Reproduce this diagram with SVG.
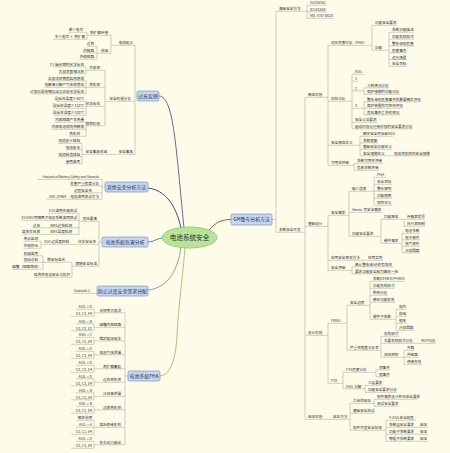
<svg xmlns="http://www.w3.org/2000/svg" width="450" height="453" viewBox="0 0 450 453">
<style>
text{font-family:"Noto Sans CJK SC","Noto Sans",sans-serif;fill:#2e2e2e}
.t{font-size:3.6px}
.l{text-anchor:end}
.s{font-size:3.2px}
.m{font-size:4.9px;text-anchor:middle;fill:#1f2f55}
.box{fill:#c8d6ee;stroke:#7b97c6;stroke-width:.7}
.ln{fill:none;stroke:#9a9a90;stroke-width:.45}
.cv{fill:none;stroke-width:1}
</style>
<rect width="450" height="453" fill="#fdfce8"/>
<g id="connectors">
<path class="cv" stroke="#8b5c8b" d="M159,96 C174,96 176,150 184,228"/>
<path class="cv" stroke="#3d4d73" d="M148,188 C165,190 176,205 181,228"/>
<path class="cv" stroke="#5588c0" d="M148,242 C154,242 157,238 163,238"/>
<path class="cv" stroke="#82a9a0" d="M148,290 C168,288 178,270 181,247"/>
<path class="cv" stroke="#c4b47c" d="M160,376 C172,375 176,355 177,335 C179,300 184,265 185,247"/>
<path class="cv" stroke="#c0504d" d="M209,230 C216,222 222,219.5 231,219.5"/>
<path class="ln" d="M137,96H135 M135,45.3V154.3 M111,45.3H135 M87,35.3H111 M68,32.3H87 M53.5,39.3H87 M87,32.3V39.3 M97,53.3H111 M86.5,46.3H97 M83,52.8H97 M79.5,59.3H97 M97,46.3V59.3 M111,35.3V53.3 M105,101.3H135 M86,70.3H105 M53,66.8H86 M58.5,73.8H86 M86,66.8V73.8 M86,87.3H105 M47.8,80.8H86 M44.2,87.3H86 M33.4,93.8H86 M86,80.8V93.8 M86,106.3H105 M56,101.3H86 M54,108.3H86 M54,115.3H86 M86,101.3V115.3 M86,125.8H105 M55,122.3H86 M51.5,129.3H86 M69,136.3H86 M86,122.3V136.3 M105,70.3V125.8 M82,154.3H135 M58,143.3H82 M65.5,149.8H82 M58,156.8H82 M65.5,163.8H82 M82,143.3V163.8"/>
<path class="ln" d="M102,187H105 M102,179.3V199.3 M37,179.3H102 M70,185.8H102 M74,192.8H102 M46,199.3H102"/>
<path class="ln" d="M99,242H102 M99,221.3V266.3 M79,221.3H99 M48,213.3H79 M21,220.3H79 M32.5,227.8H79 M22,234.3H79 M79,213.3V234.3 M41,244.3H99 M23.5,241.3H41 M23.5,248.3H41 M41,241.3V248.3 M72,266.3H99 M43,262.3H72 M23.5,255.8H43 M23.5,262.3H43 M12,269.3H43 M43,255.8V269.3 M34,277.3H72 M72,262.3V277.3"/>
<path class="ln" d="M73,293.3H97"/>
<path class="ln" d="M125,376H128 M125,312.8V444.8 M94,312.8H125 M76,309.3H94 M71,316.3H94 M94,309.3V316.3 M94,327.3H125 M76,323.8H94 M71,330.8H94 M94,323.8V330.8 M94,340.8H125 M76,337.3H94 M71,344.3H94 M94,337.3V344.3 M94,354.8H125 M76,351.3H94 M71,358.3H94 M94,351.3V358.3 M94,368.8H125 M76,365.3H94 M71,372.3H94 M94,365.3V372.3 M94,382.3H125 M76,378.8H94 M71,385.8H94 M94,378.8V385.8 M94,396.3H125 M76,392.8H94 M71,399.8H94 M94,392.8V399.8 M94,409.8H125 M76,406.3H94 M71,413.3H94 M94,406.3V413.3 M94,427.3H125 M77,420.3H94 M76,427.3H94 M71,434.3H94 M94,420.3V434.3 M94,444.8H125 M76,441.3H94 M71,448.3H94 M94,441.3V448.3"/>
<path class="ln" d="M272,219.5H276 M276,11.3V232.3 M276,11.3H307 M307,5.3H327 M307,11.8H327 M307,18.3H334 M307,5.3V18.3 M276,232.3H305 M305,97.3V419.3 M305,97.3H328 M328,45.3V165.3 M328,45.3H372 M372,25.3V50.3 M372,25.3H397 M372,50.3H389 M389,32.3V66.3 M389,32.3H414 M389,39.1H414 M389,45.9H414 M389,52.7H407 M389,59.5H407 M389,66.3H407 M328,101.3H352 M352,74.3V128.8 M352,74.3H364 M352,81.3H358 M352,90.8H364 M364,87.8V94.3 M364,87.8H389 M364,94.3H400 M352,108.3H364 M364,101.8V114.8 M364,101.8H421 M364,108.3H403 M364,114.8H400 M352,122.3H377 M352,128.8H413 M328,145.3H360 M360,136.3V155.8 M360,136.3H393 M360,142.8H378 M360,149.3H392 M360,155.8H430 M328,165.3H354 M354,163.3V170.3 M354,163.3H383 M354,170.3H379"/>
<path class="ln" d="M305,226.3H328 M328,215.3V270.3 M328,215.3H349 M349,191.3V236.3 M349,191.3H374 M374,177.3V205.3 M374,177.3H386 M374,184.3H392 M374,191.3H392 M374,198.3H392 M374,205.3H392 M349,212.3H382 M349,236.3H381 M381,219.3V243.3 M381,219.3H425 M404,226.3H425 M404,219.3V226.3 M381,243.3H402 M402,233.3V252.8 M402,233.3H420 M402,239.8H420 M402,246.3H420 M402,252.8H420 M328,260.3H383 M328,270.3H352 M352,266.8V273.8 M352,266.8H393 M352,273.8H395"/>
<path class="ln" d="M305,335.3H328 M328,323.3V383.3 M328,323.3H347 M347,305.3V350.3 M347,305.3H370 M370,281.3V319.3 M370,281.3H405 M370,288.3H395 M370,295.3H388 M370,302.3H395 M370,319.3H396 M396,309.3V330.3 M396,309.3H407 M396,316.3H407 M396,323.3H407 M396,330.3H414 M347,350.3H381 M381,336.3V357.3 M381,336.3H399 M381,343.3H436 M381,357.3H404 M404,350.3V364.3 M404,350.3H415 M404,357.3H418 M404,364.3H422 M328,383.3H343 M343,372.3V388.8 M343,372.3H376 M376,369.8V376.8 M376,369.8H390 M376,376.8H390 M343,388.8H365 M365,385.3V392.3 M365,385.3H383 M365,392.3H397"/>
<path class="ln" d="M305,419.3H350 M350,403.3V430.3 M350,403.3H374 M374,399.3V406.3 M374,399.3H417 M374,406.3H399 M350,413.3H375 M350,430.3H386 M386,420.3V441.3 M386,420.3H416 M386,427.3H428 M386,434.3H428 M386,441.3H428"/>
</g>
<g id="center"><ellipse cx="189.5" cy="237.5" rx="27.5" ry="10.5" fill="#b8e49a" stroke="#8dc26a" stroke-width=".8"/><text x="189.5" y="239.9" font-size="6.6" text-anchor="middle" fill="#1e2e1e">电池系统安全</text></g>
<g id="b_overcharge"><rect class="box" x="137" y="91" width="22" height="10" rx="1.5"/><text class="m" x="148" y="97.7">过充实例</text></g>
<g id="b_other"><rect class="box" x="105" y="182" width="43" height="10" rx="1.5"/><text class="m" x="126.5" y="188.7">其他安全分析方法</text></g>
<g id="b_hazard"><rect class="box" x="102" y="237" width="46" height="10" rx="1.5"/><text class="m" x="125" y="243.7">电池系统危害分析</text></g>
<g id="b_prevent"><rect class="box" x="97" y="286" width="51" height="10" rx="1.5"/><text class="m" x="122.5" y="292.7" font-size="4.7">防止过度安全需求分配</text></g>
<g id="b_fha"><rect class="box" x="128" y="371" width="32" height="10" rx="1.5"/><text class="m" x="144" y="377.7">电池系统FHA</text></g>
<g id="b_gm"><rect class="box" x="231" y="214" width="41" height="11" rx="1.5"/><text class="m" x="251.5" y="221.3">GM整车分析方法</text></g>
<g id="left1" class="t l">
<g id="n1"><text class="t l" x="133" y="44.3">电池起火</text></g>
<g id="n2"><text class="t l" x="108" y="34.3">热扩散传播</text></g>
<g id="n3"><text class="t l" x="83" y="31.3">单个电芯</text></g>
<g id="n4"><text class="t l" x="85" y="38.3">多个电芯 ＋ 热扩散</text></g>
<g id="n5"><text class="t l" x="108" y="52.3">诱因</text></g>
<g id="n6"><text class="t l" x="94" y="45.3">过热</text></g>
<g id="n7"><text class="t l" x="94" y="51.8">内短路</text></g>
<g id="n8"><text class="t l" x="94" y="58.3">外部短路</text></g>
<g id="n9"><text class="t l" x="131" y="100.3">安全机理分析</text></g>
<g id="n10"><text class="t l" x="100" y="69.3">负极侧</text></g>
<g id="n11"><text class="t l" x="84" y="65.8">2个碳化物的化学反应</text></g>
<g id="n12"><text class="t l" x="84" y="72.8">负极表面锂沉积</text></g>
<g id="n13"><text class="t l" x="100" y="86.3">热失控</text></g>
<g id="n14"><text class="t l" x="84" y="79.8">正极活性物质结构坍塌</text></g>
<g id="n15"><text class="t l" x="84" y="86.3">电解液分解产气体积增加</text></g>
<g id="n16"><text class="t l" x="84" y="92.8">过电位导致锂析出与正极化学反应</text></g>
<g id="n17"><text class="t l" x="100" y="105.3">化学反应</text></g>
<g id="n18"><text class="t l" x="84" y="100.3">副反应温度≥60℃</text></g>
<g id="n19"><text class="t l" x="84" y="107.3">副反应温度≥120℃</text></g>
<g id="n20"><text class="t l" x="84" y="114.3">副反应温度≥200℃</text></g>
<g id="n21"><text class="t l" x="100" y="124.8">放热阶段</text></g>
<g id="n22"><text class="t l" x="84" y="121.3">内部短路产生热量</text></g>
<g id="n23"><text class="t l" x="84" y="128.3">内部电池燃烧热释放</text></g>
<g id="n24"><text class="t l" x="80" y="135.3">热失控</text></g>
<g id="n25"><text class="t l" x="133" y="153.3">安全事故</text></g>
<g id="n26"><text class="t l" x="107" y="153.3">安全事故诱因</text></g>
<g id="n27"><text class="t l" x="80" y="142.3">电池设计缺陷</text></g>
<g id="n28"><text class="t l" x="80" y="148.8">电池老化</text></g>
<g id="n29"><text class="t l" x="80" y="155.8">电池制造缺陷</text></g>
<g id="n30"><text class="t l" x="80" y="162.8">使用滥用</text></g>
</g>
<g id="left2">
<g id="n31"><text class="s l" x="99" y="178.4">Analysis of Battery Safety and Hazards</text></g>
<g id="n32"><text class="t l" x="99" y="184.8">危害严重程度分析</text></g>
<g id="n33"><text class="t l" x="92" y="191.8">过程安全性</text></g>
<g id="n34"><text class="t l" x="99" y="198.3">电池滥用测试方法</text></g>
<g id="n35"><text class="t l" x="66" y="198.3">SAE J2464</text></g>
</g>
<g id="left3">
<g id="n36"><text class="t l" x="97" y="220.3">危险要素</text></g>
<g id="n37"><text class="t l" x="77" y="212.3">ESS滥用性能测试</text></g>
<g id="n38"><text class="t l" x="77" y="219.3">EV/HEV用锂离子电池系统滥用测试</text></g>
<g id="n39"><text class="t l" x="72" y="226.8">BMS过充检测</text></g>
<g id="n40"><text class="t l" x="40" y="226.8">过充</text></g>
<g id="n41"><text class="t l" x="72" y="233.3">BMS温度检测</text></g>
<g id="n42"><text class="t l" x="40" y="233.3">高倍率充放</text></g>
<g id="n43"><text class="t l" x="96" y="243.3">化学安全性</text></g>
<g id="n44"><text class="t l" x="69" y="243.3">SOC过温度控制</text></g>
<g id="n45"><text class="t l" x="38" y="240.3">热点监测</text></g>
<g id="n46"><text class="t l" x="38" y="247.3">外部挤压</text></g>
<g id="n47"><text class="t l" x="97" y="265.3">跟随安全标准</text></g>
<g id="n48"><text class="t l" x="65" y="261.3">等级标准化</text></g>
<g id="n49"><text class="t l" x="38" y="254.8">机械滥用</text></g>
<g id="n50"><text class="t l" x="38" y="261.3">振动试验</text></g>
<g id="n51"><text class="t l" x="41" y="268.3">碰撞（短路等级）</text></g>
<g id="n52"><text class="t l" x="70" y="276.3">结构性电池安全与防护</text></g>
</g>
<g id="left4"><g id="n53"><text class="t l" x="90" y="292.3">Subtask 1</text></g></g>
<g id="left5">
<g id="h1"><text class="t l" x="121" y="311.8">非预期大电流</text><text class="t l" x="92" y="308.3">ASIL = D</text><text class="t l" x="92" y="315.3">S3, C3, E4</text></g>
<g id="h2"><text class="t l" x="121" y="326.3">碰撞内部短路</text><text class="t l" x="92" y="322.8">ASIL = B</text><text class="t l" x="92" y="329.8">S3, C3, E2</text></g>
<g id="h3"><text class="t l" x="121" y="339.8">维护高压电击</text><text class="t l" x="92" y="336.3">ASIL = C</text><text class="t l" x="92" y="343.3">S3, C2, E4</text></g>
<g id="h4"><text class="t l" x="121" y="353.8">电池气体泄漏</text><text class="t l" x="92" y="350.3">ASIL = D</text><text class="t l" x="92" y="357.3">S3, C3, E4</text></g>
<g id="h5"><text class="t l" x="121" y="367.8">热扩散蔓延</text><text class="t l" x="92" y="364.3">ASIL = D</text><text class="t l" x="92" y="371.3">S3, C3, E4</text></g>
<g id="h6"><text class="t l" x="121" y="381.3">过充热失控</text><text class="t l" x="92" y="377.8">ASIL = D</text><text class="t l" x="92" y="384.8">S3, C3, E4</text></g>
<g id="h7"><text class="t l" x="121" y="395.3">冷却液泄漏</text><text class="t l" x="92" y="391.8">ASIL = B</text><text class="t l" x="92" y="398.8">S3, C1, E4</text></g>
<g id="h8"><text class="t l" x="121" y="408.8">过放热失控</text><text class="t l" x="92" y="405.3">ASIL = B</text><text class="t l" x="92" y="412.3">S3, C1, E4</text></g>
<g id="h9"><text class="t l" x="121" y="426.3">高压绝缘失效</text><text class="t l" x="92" y="419.3">需求说明</text><text class="t l" x="92" y="426.3">ASIL = A</text><text class="t l" x="92" y="433.3">S1, C2, E4</text></g>
<g id="h10"><text class="t l" x="121" y="443.8">失去动力输出</text><text class="t l" x="92" y="440.3">ASIL = D</text><text class="t l" x="92" y="447.3">S3, C3, E4</text></g>
</g>
<g id="right">
<g id="r1"><text class="t" x="279" y="10.3">基础安全方法</text></g>
<g id="r2"><text class="t" x="310" y="4.3">ISO26262</text></g>
<g id="r3"><text class="t" x="310" y="10.8">IEC61508</text></g>
<g id="r4"><text class="t" x="310" y="17.3">MIL-STD-882D</text></g>
<g id="r5"><text class="t" x="279" y="231.3">系统安全开发</text></g>
<g id="r6"><text class="t" x="308" y="96.3">概念阶段</text></g>
<g id="r7"><text class="t" x="331" y="44.3">初步危害分析（PHA）</text></g>
<g id="r8"><text class="t" x="375" y="24.3">功能安全要求</text></g>
<g id="r9"><text class="t" x="375" y="49.3">功能</text></g>
<g id="r10"><text class="t" x="392" y="31.3">系统功能描述</text></g>
<g id="r11"><text class="t" x="392" y="38.1">功能失效模式</text></g>
<g id="r12"><text class="t" x="392" y="44.9">整车级别危害</text></g>
<g id="r13"><text class="t" x="392" y="51.7">危害事件</text></g>
<g id="r14"><text class="t" x="392" y="58.5">运行场景</text></g>
<g id="r15"><text class="t" x="392" y="65.3">安全目标</text></g>
<g id="r16"><text class="t" x="331" y="100.3">风险分析</text></g>
<g id="r17"><text class="t" x="355" y="73.3">ASIL</text></g>
<g id="r18"><text class="t" x="355" y="80.3">1</text></g>
<g id="r19"><text class="t" x="355" y="89.8">2</text></g>
<g id="r20"><text class="t" x="367" y="86.8">三种情况分析</text></g>
<g id="r21"><text class="t" x="367" y="93.3">保护措施的功能分析</text></g>
<g id="r22"><text class="t" x="355" y="107.3">3</text></g>
<g id="r23"><text class="t" x="367" y="100.8">整车级别危害事件的暴露概率评估</text></g>
<g id="r24"><text class="t" x="367" y="107.3">保护装置的可控性评估</text></g>
<g id="r25"><text class="t" x="367" y="113.8">危险事件之外的情况</text></g>
<g id="r26"><text class="t" x="355" y="121.3">安全认证要求</text></g>
<g id="r27"><text class="t" x="355" y="127.8">起动阶段与行驶阶段的安全要求分析</text></g>
<g id="r28"><text class="t" x="331" y="144.3">安全概念定义</text></g>
<g id="r29"><text class="t" x="363" y="135.3">确定安全目标和ASIL</text></g>
<g id="r30"><text class="t" x="363" y="141.8">系统框架</text></g>
<g id="r31"><text class="t" x="363" y="148.3">基础安全功能定义</text></g>
<g id="r32"><text class="t" x="363" y="154.8">安全措施定义</text></g>
<g id="r33"><text class="t" x="394" y="154.8">电池热失控的安全措施</text></g>
<g id="r34"><text class="t" x="331" y="164.3">可用性评审</text></g>
<g id="r35"><text class="t" x="357" y="162.3">系统可用性评审</text></g>
<g id="r36"><text class="t" x="357" y="169.3">信息系统评审</text></g>
<g id="r37"><text class="t" x="308" y="225.3">基础设计</text></g>
<g id="r38"><text class="t" x="331" y="214.3">安全需求</text></g>
<g id="r39"><text class="t" x="352" y="190.3">输入信息</text></g>
<g id="r40"><text class="t" x="377" y="176.3">PHA</text></g>
<g id="r41"><text class="t" x="377" y="183.3">安全目标</text></g>
<g id="r42"><text class="t" x="377" y="190.3">整车架构</text></g>
<g id="r43"><text class="t" x="377" y="197.3">功能框图</text></g>
<g id="r44"><text class="t" x="377" y="204.3">项目定义</text></g>
<g id="r45"><text class="t" x="352" y="211.3">Vector 写安全需求</text></g>
<g id="r46"><text class="t" x="352" y="235.3">功能安全要求</text></g>
<g id="r47"><text class="t" x="384" y="218.3">功能概念</text></g>
<g id="r48"><text class="t" x="407" y="218.3">传感器信号</text></g>
<g id="r49"><text class="t" x="407" y="225.3">执行器控制</text></g>
<g id="r50"><text class="t" x="384" y="242.3">硬件需求</text></g>
<g id="r51"><text class="t" x="405" y="232.3">电池参数</text></g>
<g id="r52"><text class="t" x="405" y="238.8">电子部件</text></g>
<g id="r53"><text class="t" x="405" y="245.3">电气部件</text></g>
<g id="r54"><text class="t" x="405" y="251.8">冷却回路</text></g>
<g id="r55"><text class="t" x="331" y="259.3">应用安全相关方法</text></g>
<g id="r56"><text class="t" x="368" y="259.3">应用实例</text></g>
<g id="r57"><text class="t" x="331" y="269.3">安全评审</text></g>
<g id="r58"><text class="t" x="355" y="265.8">确认整车级HA的有效性</text></g>
<g id="r59"><text class="t" x="355" y="272.8">要求功能安全和可靠性一致</text></g>
<g id="r60"><text class="t" x="308" y="334.3">设计阶段</text></g>
<g id="r61"><text class="t" x="331" y="322.3">FMEA</text></g>
<g id="r62"><text class="t" x="350" y="304.3">安全边界</text></g>
<g id="r63"><text class="t" x="373" y="280.3">系统DFMEA/PFMEA</text></g>
<g id="r64"><text class="t" x="373" y="287.3">功能失效模式</text></g>
<g id="r65"><text class="t" x="373" y="294.3">影响分析</text></g>
<g id="r66"><text class="t" x="373" y="301.3">确定功能失效</text></g>
<g id="r67"><text class="t" x="373" y="318.3">硬件子系统</text></g>
<g id="r68"><text class="t" x="399" y="308.3">电芯</text></g>
<g id="r69"><text class="t" x="399" y="315.3">模组</text></g>
<g id="r70"><text class="t" x="399" y="322.3">箱体</text></g>
<g id="r71"><text class="t" x="399" y="329.3">冷却回路</text></g>
<g id="r72"><text class="t" x="350" y="349.3">严重性程度分析表</text></g>
<g id="r73"><text class="t" x="384" y="335.3">失效模式</text></g>
<g id="r74"><text class="t" x="384" y="342.3">主要失效模式分析</text></g>
<g id="r75"><text class="t" x="421" y="342.3">MCP分析</text></g>
<g id="r76"><text class="t" x="384" y="356.3">风险矩阵</text></g>
<g id="r77"><text class="t" x="407" y="349.3">开路</text></g>
<g id="r78"><text class="t" x="407" y="356.3">外短路</text></g>
<g id="r79"><text class="t" x="407" y="363.3">绝缘失效</text></g>
<g id="r80"><text class="t" x="331" y="382.3">FTA</text></g>
<g id="r81"><text class="t" x="346" y="371.3">FTA危害分析</text></g>
<g id="r82"><text class="t" x="379" y="368.8">顶事件</text></g>
<g id="r83"><text class="t" x="379" y="375.8">底事件</text></g>
<g id="r84"><text class="t" x="346" y="387.8">ASIL 分解</text></g>
<g id="r85"><text class="t" x="368" y="384.3">三层要求</text></g>
<g id="r86"><text class="t" x="368" y="391.3">功能安全要求分析</text></g>
<g id="r87"><text class="t" x="308" y="418.3">验证阶段</text></g>
<g id="r88"><text class="t" x="333" y="418.3">验证方法</text></g>
<g id="r89"><text class="t" x="353" y="402.3">工具的验证</text></g>
<g id="r90"><text class="t" x="377" y="398.3">软件需求设计符合安全要求</text></g>
<g id="r91"><text class="t" x="377" y="405.3">测试安全要求</text></g>
<g id="r92"><text class="t" x="353" y="412.3">基础安全测试</text></g>
<g id="r93"><text class="t" x="353" y="429.3">软件开发安全规格</text></g>
<g id="r94"><text class="t" x="389" y="419.3">V-ASIL安全模型</text></g>
<g id="r95"><text class="t" x="389" y="426.3">系统层安全要求</text><text class="t" x="420" y="426.3">验证</text></g>
<g id="r96"><text class="t" x="389" y="433.3">功能子系统要求</text><text class="t" x="420" y="433.3">验证</text></g>
<g id="r97"><text class="t" x="389" y="440.3">物理子系统要求</text><text class="t" x="420" y="440.3">验证</text></g>
</g>
</svg>
